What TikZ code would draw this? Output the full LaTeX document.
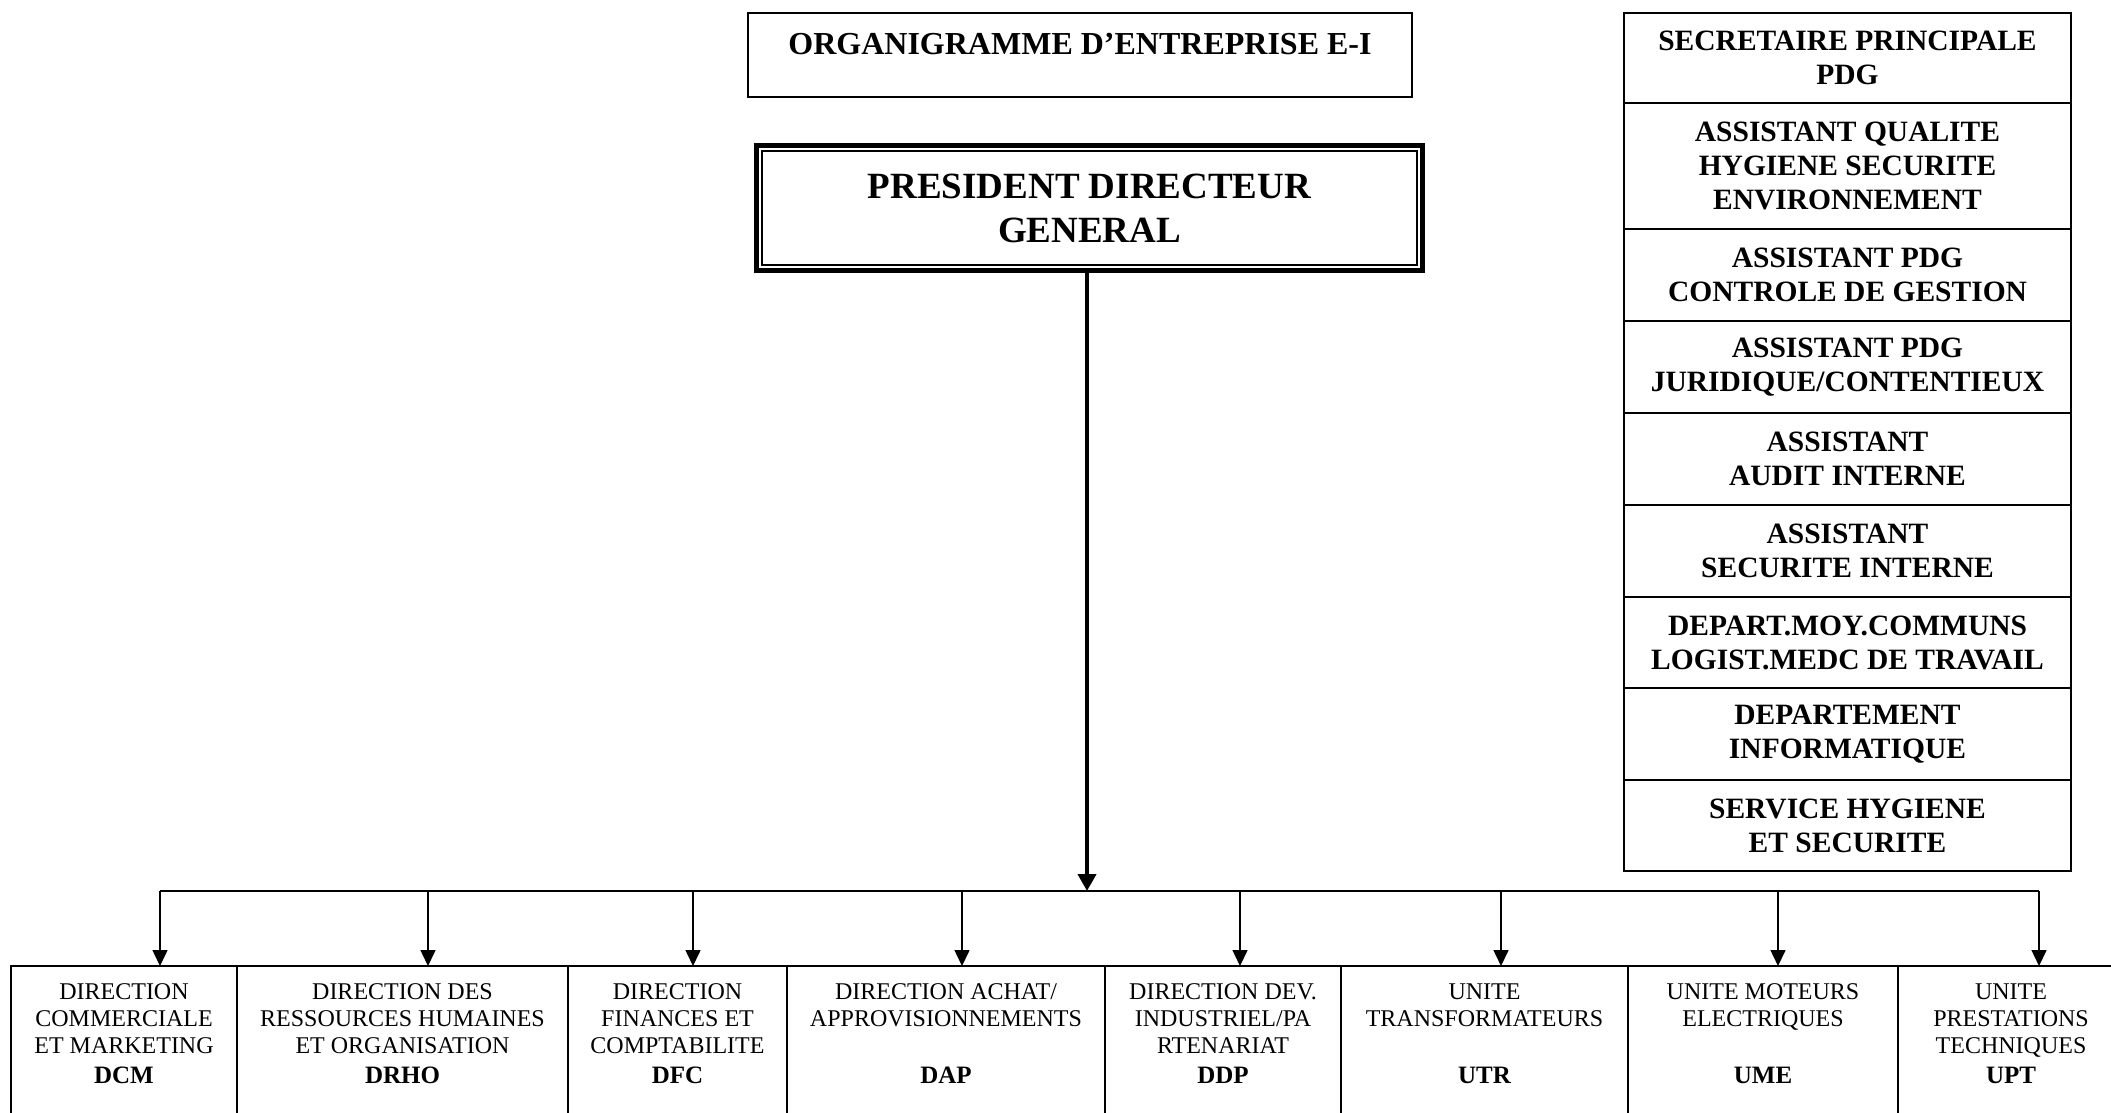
\documentclass[tikz,border=0pt]{standalone}
\usepackage{fontspec}
\setmainfont{Liberation Serif}
\usetikzlibrary{arrows.meta}

% Cell of the bottom row: fixed-size box, text set from the top
\newcommand\unitcell[3]{%
  \begin{minipage}[t][170pt][t]{#1pt}\centering
    \fontsize{24}{27.3}\selectfont
    \rule{0pt}{33pt}#2\\[2.7pt]{\bfseries\fontsize{25}{27.3}\selectfont #3}%
  \end{minipage}}

\begin{document}
\begin{tikzpicture}[x=1pt,y=-1pt,
  box/.style={draw, line width=1.8pt, inner sep=0pt, outer sep=0pt},
  sidebox/.style={box, anchor=north west, minimum width=447pt, align=center,
                  font=\bfseries\fontsize{29.5}{34}\selectfont},
  unitbox/.style={box, anchor=north west},
  feed/.style={line width=1.5pt, -{Triangle[length=16pt,width=15pt]}},
  bus/.style={line width=1.4pt},
]
\useasboundingbox (0,0) rectangle (2111,1112);
\fill[white] (0,0) rectangle (2111,1112);
\clip (0,0) rectangle (2111,1112);

% Title
\node[box, anchor=north west, minimum width=664pt, minimum height=84pt,
      font=\bfseries\fontsize{32}{37}\selectfont, text height=22pt, text depth=24pt]
  (title) at (748,13) {ORGANIGRAMME D’ENTREPRISE E-I};

% President, double frame
\node[draw, line width=5pt, outer sep=0pt, anchor=north west,
      minimum width=666pt, minimum height=125pt, align=center,
      font=\bfseries\fontsize{37}{44}\selectfont]
  (pdg) at (756.5,145.5) {PRESIDENT DIRECTEUR\\GENERAL};
\draw[line width=1.5pt] ([shift={(5.5,5.5)}]pdg.north west)
  rectangle ([shift={(-5.5,-5.5)}]pdg.south east);

% Staff attached to the president
\node[sidebox, minimum height=90pt] (s1) at (1624,13) {SECRETAIRE PRINCIPALE\\PDG};
\node[sidebox, minimum height=126pt] (s2) at (s1.south west) {ASSISTANT QUALITE\\HYGIENE SECURITE\\ENVIRONNEMENT};
\node[sidebox, minimum height=92pt] (s3) at (s2.south west) {ASSISTANT PDG\\CONTROLE DE GESTION};
\node[sidebox, minimum height=92pt] (s4) at (s3.south west) {ASSISTANT PDG\\JURIDIQUE/CONTENTIEUX};
\node[sidebox, minimum height=92pt] (s5) at (s4.south west) {ASSISTANT\\AUDIT INTERNE};
\node[sidebox, minimum height=92pt] (s6) at (s5.south west) {ASSISTANT\\SECURITE INTERNE};
\node[sidebox, minimum height=91pt] (s7) at (s6.south west) {DEPART.MOY.COMMUNS\\LOGIST.MEDC DE TRAVAIL};
\node[sidebox, minimum height=92pt] (s8) at (s7.south west) {DEPARTEMENT\\INFORMATIQUE};
\node[sidebox, minimum height=91pt] (s9) at (s8.south west) {SERVICE HYGIENE\\ET SECURITE};

% Directions and units
\node[unitbox] (dcm)  at (11,966)   {\unitcell{226}{DIRECTION\\COMMERCIALE\\ET MARKETING}{DCM}};
\node[unitbox] (drho) at (237,966)  {\unitcell{331}{DIRECTION DES\\RESSOURCES HUMAINES\\ET ORGANISATION}{DRHO}};
\node[unitbox] (dfc)  at (568,966)  {\unitcell{219}{DIRECTION\\FINANCES ET\\COMPTABILITE}{DFC}};
\node[unitbox] (dap)  at (787,966)  {\unitcell{318}{DIRECTION ACHAT/\\APPROVISIONNEMENTS\\\mbox{}}{DAP}};
\node[unitbox] (ddp)  at (1105,966) {\unitcell{236}{DIRECTION DEV.\\INDUSTRIEL/PA\\RTENARIAT}{DDP}};
\node[unitbox] (utr)  at (1341,966) {\unitcell{287}{UNITE\\TRANSFORMATEURS\\\mbox{}}{UTR}};
\node[unitbox] (ume)  at (1628,966) {\unitcell{270}{UNITE MOTEURS\\ELECTRIQUES\\\mbox{}}{UME}};
\node[unitbox] (upt)  at (1898,966) {\unitcell{226}{UNITE\\PRESTATIONS\\TECHNIQUES}{UPT}};

% Distribution bus
\coordinate (hub) at (1087,891);
\coordinate (b1) at (160,891);
\coordinate (b2) at (428,891);
\coordinate (b3) at (693,891);
\coordinate (b4) at (962,891);
\coordinate (b5) at (1240,891);
\coordinate (b6) at (1501,891);
\coordinate (b7) at (1778,891);
\coordinate (b8) at (2039,891);

\draw[bus] (b1) -- (b8);
\foreach \b/\n in {b1/dcm, b2/drho, b3/dfc, b4/dap, b5/ddp, b6/utr, b7/ume, b8/upt}
  \draw[feed] (\b) -- (\b |- \n.north);

\draw[line width=4pt, -{Triangle[length=17pt,width=18pt]}] (pdg.south -| hub) -- (hub);
\end{tikzpicture}
\end{document}
